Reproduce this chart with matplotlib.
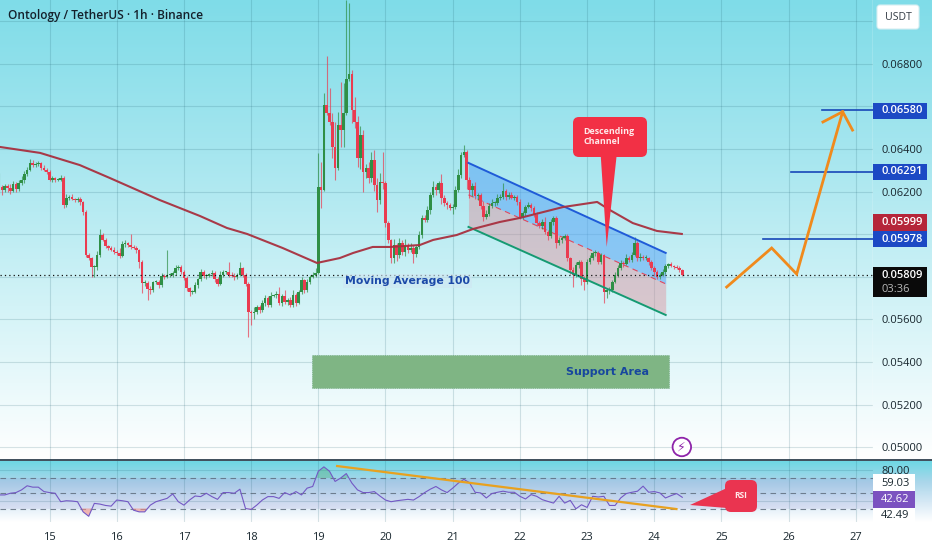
import numpy as np
import matplotlib
matplotlib.use('Agg')
import matplotlib.pyplot as plt
from matplotlib.colors import LinearSegmentedColormap
from matplotlib.patches import FancyBboxPatch, Polygon, Rectangle
from matplotlib.transforms import blended_transform_factory

plt.rcParams['font.family'] = ['Open Sans', 'DejaVu Sans']

#candles, hourly, prices in 1e-5 USDT. one row per day
first_open = 6200
closes = [
    6221,6207,6225,6216,6202,6235,6212,6240,6254,6282,6301,6334,6325,6330,6334,6310,6301,6292,
    6254,6263,6254,6254,6263,6137,6170,6174,6165,6160,6165,6151,6104,5902,5888,5846,5846,5902,5996,5973,5945,5935,5926,5917,
    5912,5898,5954,5959,5949,5940,5935,5926,5870,5771,5771,5743,5738,5776,5776,5762,5804,5799,5809,5809,5818,5841,5846,5823,
    5795,5748,5729,5729,5762,5790,5823,5804,5804,5813,5818,5790,5766,5809,5823,5823,5809,5804,5799,5809,5841,5809,5766,5635,
    5631,5635,5659,5645,5677,5701,5668,5710,5715,5720,5677,5710,5682,5691,5668,5715,5677,5729,5785,5738,5776,5799,5809,5820,
    6221,6207,6606,6568,6526,6408,6310,6512,6488,6568,6727,6751,6582,6526,6357,6465,6292,6310,6263,6348,6231,6160,6245,6240,
    6052,5973,5888,5949,5902,5959,5917,5945,5926,5935,5907,5940,5996,6076,6067,6113,6184,6221,6207,6240,6170,6146,6137,6123,
    6128,6207,6277,6371,6385,6254,6207,6225,6179,6184,6130,6081,6095,6132,6146,6146,6170,6174,6202,6174,6184,6170,6174,6151,
    6081,6099,6127,6137,6123,6090,6052,6038,6057,6010,5991,6057,6076,5959,5973,5982,5991,5888,5832,5809,5855,5870,5790,5776,
    5870,5888,5912,5912,5870,5902,5729,5738,5740,5776,5809,5841,5865,5860,5888,5879,5902,5959,5888,5893,5888,5888,5870,5841,
    5823,5800,5809,5823,5851,5860,5851,5846,5841,5832,5809,
]
wick_up = [
    66,10,12,8,20,15,10,14,18,12,14,20,15,10,8,6,12,8,
    8,12,6,10,14,10,16,8,14,6,10,8,6,10,8,6,10,20,30,8,10,6,8,12,
    8,25,12,14,6,50,10,8,6,8,12,8,14,6,8,10,14,8,117,10,8,14,10,8,
    10,8,6,8,14,6,12,8,10,6,14,10,8,16,10,6,47,12,14,8,30,6,10,8,
    10,25,8,10,14,12,8,20,6,14,30,10,28,8,14,25,10,8,12,6,14,10,12,20,
    160,118,54,229,118,40,120,60,200,140,371,332,20,60,30,40,25,20,30,35,45,30,40,140,
    10,8,6,30,10,25,15,30,12,25,14,10,18,12,14,20,16,30,12,10,40,14,8,10,
    14,20,30,12,35,8,12,14,20,10,8,25,16,12,18,10,20,14,38,10,14,12,8,10,
    16,10,12,14,8,10,14,8,12,25,10,14,10,8,12,10,8,10,6,12,14,10,8,12,
    12,16,10,14,8,10,6,8,10,8,14,16,12,10,18,8,14,30,10,20,8,12,6,10,
    8,10,8,12,10,6,8,6,8,10,5,
]
wick_dn = [
    10,25,8,20,12,6,14,8,10,12,8,6,10,8,12,8,6,10,
    6,10,8,6,4,14,10,8,6,10,8,12,14,10,8,47,45,12,8,6,10,8,6,12,
    10,8,6,12,8,10,6,14,30,47,12,50,20,10,8,14,10,8,6,8,12,10,8,12,
    10,14,20,8,6,14,10,8,12,6,10,14,8,6,10,8,12,6,14,8,6,12,10,117,
    56,30,10,14,8,12,10,8,6,14,10,12,8,14,10,8,16,6,10,14,8,10,6,8,
    5,84,6,10,14,50,56,9,80,80,10,8,60,30,40,50,94,30,25,20,30,56,20,30,
    20,15,23,25,30,12,14,20,16,10,40,14,8,14,10,12,18,8,25,14,30,12,20,10,
    30,10,8,12,8,40,36,30,14,18,10,20,8,10,8,14,10,12,8,14,10,6,12,14,
    10,8,12,6,14,10,16,8,14,10,20,8,12,25,10,14,8,16,20,55,10,14,30,38,
    12,8,10,14,10,8,52,30,18,10,6,8,10,14,6,10,8,6,14,12,8,10,14,10,
    20,8,10,6,8,10,6,8,6,10,4,
]

#moving average 100
ma_days = [14.26,14.86,15.45,15.90,16.64,17.24,17.64,17.94,18.47,18.98,19.32,19.52,19.81,20.07,20.51,20.71,21.06,21.30,21.70,22.0,22.64,23.15,23.34,23.68,24.04,24.41]
ma_vals = [6409,6381,6324,6263,6160,6085,6029,6001,5935,5865,5888,5912,5940,5940,5949,5973,5996,6024,6057,6076,6127,6151,6113,6052,6015,6001]

#drawings
channel_days = [21.235, 24.17]
channel_top = [6334, 5912]
channel_mid = [6184, 5767]
channel_low = [6034, 5621]
support_days = [18.906, 24.22]
support_vals = [5279, 5434]
path_days = [25.077, 25.747, 26.119, 26.803]
path_vals = [5752, 5935, 5813, 6574]
arrow_days = [26.51, 26.803, 26.95]
arrow_vals = [6526, 6574, 6488]
target_vals = [6580, 6291, 5978]
target_starts = [26.5, 26.03, 25.62]

#rsi every two hours
rsi_vals = [
    47.8,47.8,50,50.9,54.4,59.8,58,58,52.2,50.9,50,38.9,40.2,39.8,38.9,25.6,19.8,36.7,35.8,34,33.1,41.1,40.2,38.9,
    27.8,25.6,25.6,34.4,38.9,41.1,43.3,49.1,38.9,34.4,41.1,46.4,45.6,50,45.6,42,50.9,50.9,50,55.3,30,28.7,34.4,41.1,
    45.6,45.6,43.3,50.9,47.8,52.2,47.8,56.7,58.9,78.9,84.6,78.9,65.5,70,75.8,63.3,54.4,50.9,50.9,52.2,46.4,41.1,38.9,
    40.2,41.1,42,41.1,45.6,50.9,55.3,58.9,54.4,50.9,56.7,63.3,
    68.2,63.8,51.3,50.4,43.8,49.6,51.3,52.7,51.3,51.3,46,42.5,48.2,46,41.6,39.3,37.1,46,37.1,40.7,29.6,34.9,31.4,46,
    45.1,46,34,34,43.8,49.6,51.3,52.7,59.3,51.3,52.2,50.4,43.8,46.9,49.6,44.7,
]
rsi_trend_days = [19.28, 24.33]
rsi_trend_vals = [85.7, 29.3]

price_ticks = [0.050,0.052,0.054,0.056,0.058,0.060,0.062,0.064,0.066,0.068]
#0.058, 0.060 and 0.066 sit under the tags on the scale
price_labels = ['0.05000','0.05200','0.05400','0.05600','','','0.06200','0.06400','','0.06800']
day_ticks = [15,16,17,18,19,20,21,22,23,24,25,26,27]

GREEN = '#2f8f46'
RED = '#ea3b50'
GRID = '#1a5a6a'
BLUE_TAG = '#1c49c4'
TICK_FONT = 8

W, H = 932, 550
fig = plt.figure(figsize=(W/100, H/100), dpi=100, facecolor='white')

def axes_px(left, top, right, bottom, **kw):
    return fig.add_axes([left/W, 1-bottom/H, (right-left)/W, (bottom-top)/H], **kw)

#background gradients
teal_main = LinearSegmentedColormap.from_list('m', ['#7fdce8', '#a6e6ef', '#d3f3f7', '#ffffff'])
teal_rsi = LinearSegmentedColormap.from_list('r', ['#6fd8e4', '#a9d6ea', '#d5e8f5', '#ffffff'])
bg1 = axes_px(0, 0, W, 460, zorder=0)
bg1.imshow(np.linspace(0,1,256).reshape(-1,1), aspect='auto', cmap=teal_main)
bg1.axis('off')
bg2 = axes_px(0, 461, W, 522, zorder=0)
bg2.imshow(np.linspace(0,1,64).reshape(-1,1), aspect='auto', cmap=teal_rsi)
bg2.axis('off')

ax = axes_px(0, 0, 873, 460, zorder=2)
ax.patch.set_visible(False)
ax.set_xlim(14.263, 27.255)
ax.set_ylim(0.04941, 0.07098)
rsi = axes_px(0, 461, 873, 522, zorder=2)
rsi.patch.set_visible(False)
rsi.set_xlim(14.263, 27.255)
rsi.set_ylim(12.3, 92.3)
for a in (ax, rsi):
    for s in a.spines.values():
        s.set_visible(False)
    a.set_xticks(day_ticks)
    a.grid(True, color=GRID, lw=0.8, alpha=0.17)
    a.set_axisbelow(True)
    a.yaxis.tick_right()
    a.tick_params(length=0, labelcolor='#18262e', labelsize=TICK_FONT)

ax.tick_params(labelbottom=False)
ax.set_yticks(price_ticks)
ax.set_yticklabels(price_labels)
ax.tick_params(axis='y', pad=5.8)
ax.axhline(0.070, color=GRID, lw=0.8, alpha=0.17)
rsi.set_xticklabels([str(d) for d in day_ticks])
rsi.tick_params(axis='x', pad=7)
rsi.set_yticks([40, 80])
rsi.set_yticklabels(['', '80.00'])
rsi.tick_params(axis='y', pad=5.8)

#channel and support under the candles
ch_x = np.array(channel_days)
ax.fill_between(ch_x, np.array(channel_mid)/1e5, np.array(channel_top)/1e5, color='#5aa6f5', alpha=0.55, lw=0, zorder=1)
ax.fill_between(ch_x, np.array(channel_low)/1e5, np.array(channel_mid)/1e5, color='#e28a96', alpha=0.42, lw=0, zorder=1)
ax.plot(ch_x, np.array(channel_top)/1e5, color='#1f5bd8', lw=1.4, zorder=4)
ax.plot(ch_x, np.array(channel_low)/1e5, color='#159a72', lw=1.4, zorder=4)
ax.plot(ch_x, np.array(channel_mid)/1e5, color='#e2475c', lw=0.8, ls=(0,(5,4)), zorder=1.5)
ax.add_patch(Rectangle((support_days[0], support_vals[0]/1e5), support_days[1]-support_days[0],
                       (support_vals[1]-support_vals[0])/1e5, fc='#7fb584', ec='#5f9f70', lw=0.5, ls=':', zorder=1))

#candles
opens = np.array([first_open] + closes[:-1])
closes_a = np.array(closes)
tops = np.maximum(opens, closes_a)
bots = np.minimum(opens, closes_a)
cx = 14.25 + np.arange(len(closes))/24
up = closes_a >= opens
cols = np.where(up, GREEN, RED)
ax.vlines(cx, (bots-np.array(wick_dn))/1e5, (tops+np.array(wick_up))/1e5, colors=cols, lw=0.8, alpha=0.7, zorder=3)
ax.bar(cx, np.maximum(tops-bots, 5)/1e5, bottom=bots/1e5, width=0.9/24, color=cols, lw=0, zorder=3)

ax.plot(ma_days, np.array(ma_vals)/1e5, color='#a8303f', lw=1.5, alpha=0.95, zorder=4, solid_joinstyle='round')
ax.axhline(0.05809, color='#111111', lw=0.9, ls=(0,(1,2.5)), zorder=4)

#targets and projected path
for v, s in zip(target_vals, target_starts):
    ax.plot([s, 27.255], [v/1e5, v/1e5], color='#1847b8', lw=1.2, zorder=4)
ax.plot(path_days, np.array(path_vals)/1e5, color='#f08a1c', lw=2, zorder=5, solid_joinstyle='miter')
ax.plot(arrow_days, np.array(arrow_vals)/1e5, color='#f08a1c', lw=2, zorder=5, solid_joinstyle='miter')

ax.text(20.33, 0.0578, 'Moving Average 100', color='#1b49a8', fontsize=7.8, fontweight='bold', family='DejaVu Sans',
        ha='center', va='center', zorder=6, bbox=dict(fc='#cfe6f2', ec='none', alpha=0.6, pad=1.5))
ax.text(23.31, 0.05355, 'Support Area', color='#17479e', fontsize=8, fontweight='bold', family='DejaVu Sans',
        ha='center', va='center', zorder=6)
ax.text(24.41, 0.05002, '\u26a1', color='#8e24aa', fontsize=9, family='DejaVu Sans', ha='center', va='center', zorder=6,
        bbox=dict(boxstyle='circle,pad=0.22', fc='white', ec='#8e24aa', lw=1.3))

#price tags on the scale
tr = blended_transform_factory(ax.transAxes, ax.transData)
ylo, yhi = ax.get_ylim()
tags = [(BLUE_TAG, '0.06580', 110.7), (BLUE_TAG, '0.06291', 172), ('#b5263a', '0.05999', 222.5), (BLUE_TAG, '0.05978', 239.3)]
for col, lab, ypx in tags:
    yc = yhi - ypx/460*(yhi-ylo)
    hh = 8.2/460*(yhi-ylo)
    ax.add_patch(Rectangle((1, yc-hh), 54/873, 2*hh, transform=tr, fc=col, ec='none', clip_on=False, zorder=6))
    ax.text(1+8/873, yc, lab, transform=tr, color='white', fontsize=TICK_FONT, fontweight='semibold', va='center', ha='left', zorder=7, clip_on=False)

ax.axvline(27.255, color='white', lw=1, alpha=0.8)

#rsi pane
rsi.axhspan(30, 70, color='#7e57c2', alpha=0.1, lw=0, zorder=0.5)
for lvl in (70, 50, 30):
    rsi.axhline(lvl, color='#5a6878', lw=0.8, ls=(0,(5,4)), alpha=0.8, zorder=1)
rx = cx[::2][:len(rsi_vals)]
rv = np.array(rsi_vals)
rsi.fill_between(rx, 70, rv, where=rv > 70, color='#4caf7a', alpha=0.4, lw=0, interpolate=True)
rsi.fill_between(rx, 30, rv, where=rv < 30, color='#f28b82', alpha=0.6, lw=0, interpolate=True)
rsi.plot(rx, rv, color='#7358c4', lw=0.8, zorder=3)
rsi.plot(rsi_trend_days, rsi_trend_vals, color='#e8a11f', lw=1.6, zorder=4)

#overlay in pixels for the callouts and scale boxes
ov = axes_px(0, 0, W, H, zorder=6)
ov.set_xlim(0, W)
ov.set_ylim(H, 0)
ov.axis('off')

ov.text(8, 16, 'Ontology / TetherUS \u00b7 1h \u00b7 Binance', color='#14202b', fontsize=8.6, fontweight='semibold', va='center')
ov.add_patch(FancyBboxPatch((879, 7), 38, 20, boxstyle='round,pad=2,rounding_size=3', fc='white', ec='#d6eef2', lw=0.8))
ov.text(898, 17, 'USDT', color='#333b44', fontsize=7.6, ha='center', va='center')

ov.plot([0, W], [460, 460], color='#1c3040', lw=1.2)

#descending channel callout
CALL = '#f23045'
ov.add_patch(Polygon([(600.7, 155), (616.7, 155), (606.7, 247)], fc=CALL, ec='none'))
ov.add_patch(FancyBboxPatch((578, 122), 64, 30, boxstyle='round,pad=5,rounding_size=6', fc=CALL, ec='none'))
ov.text(583, 132, 'Descending', color='#ffe9ea', fontsize=6.4, fontweight='bold', va='center')
ov.text(583, 142, 'Channel', color='#ffe9ea', fontsize=6.4, fontweight='bold', va='center')

#rsi callout
CALL2 = '#ea3450'
ov.add_patch(Polygon([(690, 505), (727, 488), (727, 508)], fc=CALL2, ec='none'))
ov.add_patch(FancyBboxPatch((730, 485), 22, 22, boxstyle='round,pad=5,rounding_size=6', fc=CALL2, ec='none'))
ov.text(741, 496, 'RSI', color='#ffe9ea', fontsize=6, fontweight='bold', ha='center', va='center')

#black last price tag
ov.add_patch(Rectangle((873, 267), 54, 30, fc='#0a0a0a', ec='none'))
ov.text(881, 275.5, '0.05809', color='white', fontsize=TICK_FONT, fontweight='semibold', va='center')
ov.text(881, 289, '03:36', color='#b8b8b8', fontsize=TICK_FONT, va='center')

#rsi scale values
ov.add_patch(Rectangle((873, 474), 42, 17, fc='white', ec='none'))
ov.add_patch(Rectangle((873, 508), 42, 14, fc='white', ec='none'))
ov.add_patch(Rectangle((873, 491), 42, 17, fc='#7b52c0', ec='none'))
ov.text(881, 483, '59.03', color='#18262e', fontsize=TICK_FONT, va='center')
ov.text(881, 499.5, '42.62', color='white', fontsize=TICK_FONT, va='center')
ov.text(881, 516, '42.49', color='#18262e', fontsize=TICK_FONT, va='center')

fig.savefig('out.png', dpi=100)
